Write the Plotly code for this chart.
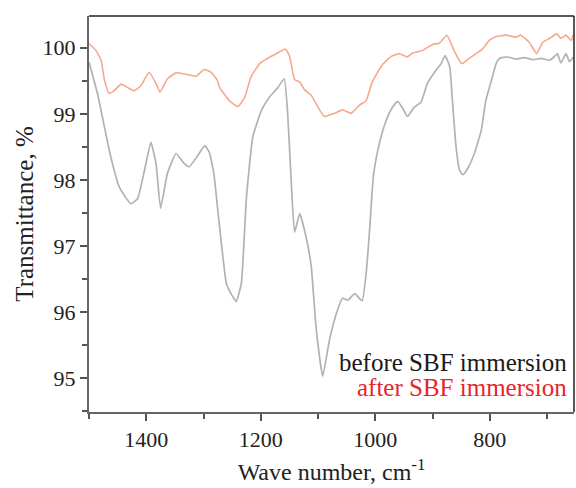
import plotly.graph_objects as go

# before SBF immersion (grey)
wn_before = [1500, 1485, 1473, 1462, 1447, 1427, 1415, 1403, 1392, 1383, 1375, 1363, 1348, 1334, 1325,
             1310, 1298, 1290, 1282, 1274, 1267, 1260, 1250, 1243, 1234, 1225, 1214, 1199, 1185, 1170, 1159,
             1153, 1147, 1141, 1132, 1121, 1112, 1103, 1092, 1080, 1068, 1057, 1048, 1036, 1023,
             1016, 1010, 1005, 1002, 993, 981, 970, 961, 952, 944, 932, 920, 909, 894, 885, 878,
             870, 865, 859, 853, 847, 839, 827, 815, 807, 798, 789, 783, 770, 754, 740, 725, 710,
             696, 688, 682, 676, 667, 661, 654]
tr_before = [99.78, 99.30, 98.80, 98.35, 97.89, 97.64, 97.72, 98.15, 98.57, 98.25, 97.57, 98.10, 98.40, 98.25, 98.20,
             98.37, 98.52, 98.42, 98.10, 97.45, 96.90, 96.43, 96.25, 96.16, 96.43, 97.74, 98.65, 99.05, 99.25, 99.40, 99.53,
             99.00, 98.00, 97.21, 97.49, 97.14, 96.70, 95.73, 95.03, 95.58, 95.98, 96.21, 96.18, 96.28, 96.17,
             96.59, 97.24, 97.89, 98.15, 98.55, 98.90, 99.10, 99.19, 99.08, 98.96, 99.10, 99.18, 99.46, 99.66, 99.76, 99.88,
             99.71, 99.16, 98.50, 98.15, 98.08, 98.17, 98.40, 98.75, 99.20, 99.48, 99.76, 99.84, 99.86, 99.83, 99.85, 99.82, 99.84,
             99.81, 99.86, 99.91, 99.77, 99.91, 99.79, 99.86]

# after SBF immersion (orange)
wn_after = [1500, 1488, 1479, 1473, 1465, 1456, 1444, 1433, 1421, 1409, 1395, 1383, 1376, 1363, 1348, 1331,
            1313, 1299, 1287, 1276, 1272, 1255, 1240, 1228, 1217, 1202, 1188, 1173, 1157, 1150, 1141,
            1132, 1124, 1112, 1100, 1089, 1071, 1057, 1042, 1028, 1016, 1005, 987, 972, 958, 944,
            935, 917, 900, 888, 875, 865, 862, 849, 839, 824, 813, 801, 789, 772, 754, 746, 731, 718,
            708, 696, 683, 676, 667, 658, 654]
tr_after = [100.06, 99.96, 99.81, 99.51, 99.31, 99.35, 99.45, 99.40, 99.35, 99.43, 99.63, 99.46, 99.33, 99.53, 99.62, 99.60,
            99.57, 99.67, 99.63, 99.51, 99.40, 99.20, 99.11, 99.25, 99.56, 99.76, 99.84, 99.91, 99.98, 99.88, 99.52,
            99.48, 99.37, 99.28, 99.10, 98.96, 99.01, 99.06, 99.01, 99.13, 99.20, 99.49, 99.75, 99.87, 99.91, 99.86,
            99.92, 99.96, 100.05, 100.07, 100.19, 100.01, 99.95, 99.76, 99.82, 99.91, 99.98, 100.11, 100.17, 100.19, 100.16, 100.19, 100.08, 99.91,
            100.08, 100.14, 100.21, 100.14, 100.19, 100.11, 100.20]

x_ticks = [1400, 1200, 1000, 800]
y_ticks = [95, 96, 97, 98, 99, 100]

FONT = "Liberation Serif"

fig = go.Figure()
fig.add_trace(go.Scatter(x=wn_before, y=tr_before, mode="lines", name="before SBF immersion",
                         line=dict(color="#b2b2b6", width=1.7, shape="spline", smoothing=0.4)))
fig.add_trace(go.Scatter(x=wn_after, y=tr_after, mode="lines", name="after SBF immersion",
                         line=dict(color="#f6a88c", width=1.6, shape="spline", smoothing=0.4)))

fig.update_layout(
    width=576, height=488,
    margin=dict(l=89, r=2, t=16, b=76),
    plot_bgcolor="white", paper_bgcolor="white",
    showlegend=False,
    font=dict(family=FONT, size=23, color="#222222"),
)
fig.update_xaxes(
    range=[1500, 653], tickvals=x_ticks, ticks="outside", ticklen=7, tickwidth=1.5, tickcolor="#555555",
    showline=True, linecolor="#666666", linewidth=2, showgrid=False, zeroline=False,
    minor=dict(tickvals=[1500, 1300, 1100, 900, 700], ticks="outside", ticklen=5, tickcolor="#555555", tickwidth=1.5),
    title=dict(text="Wave number, cm<sup>-1</sup>", font=dict(family=FONT, size=24), standoff=12),
    tickfont=dict(family=FONT, size=22),
)
fig.update_yaxes(
    range=[94.49, 100.48], tickvals=y_ticks, ticks="outside", ticklen=7, tickwidth=1.5, tickcolor="#555555",
    showline=True, linecolor="#666666", linewidth=2, showgrid=False, zeroline=False,
    minor=dict(tickvals=[94.5, 95.5, 96.5, 97.5, 98.5, 99.5], ticks="outside", ticklen=5, tickcolor="#555555", tickwidth=1.5),
    title=dict(text="Transmittance, %", font=dict(family=FONT, size=25), standoff=2),
    tickfont=dict(family=FONT, size=22),
)
# top and right frame
fig.add_shape(type="line", xref="paper", yref="paper", x0=0, x1=1, y0=1, y1=1, line=dict(color="#222222", width=1.5))
fig.add_shape(type="line", xref="paper", yref="paper", x0=1, x1=1, y0=0, y1=1, line=dict(color="#222222", width=1.5))

fig.add_annotation(xref="paper", yref="paper", x=0.99, y=0.126, xanchor="right", yanchor="middle",
                   text="before SBF immersion", showarrow=False, font=dict(family=FONT, size=25, color="#1a1a1a"))
fig.add_annotation(xref="paper", yref="paper", x=0.99, y=0.061, xanchor="right", yanchor="middle",
                   text="after SBF immersion", showarrow=False, font=dict(family=FONT, size=25, color="#e8232b"))

fig.write_html("out.html", config={"displayModeBar": False},
               post_script="document.body.style.margin='0';document.body.style.overflow='hidden';")
